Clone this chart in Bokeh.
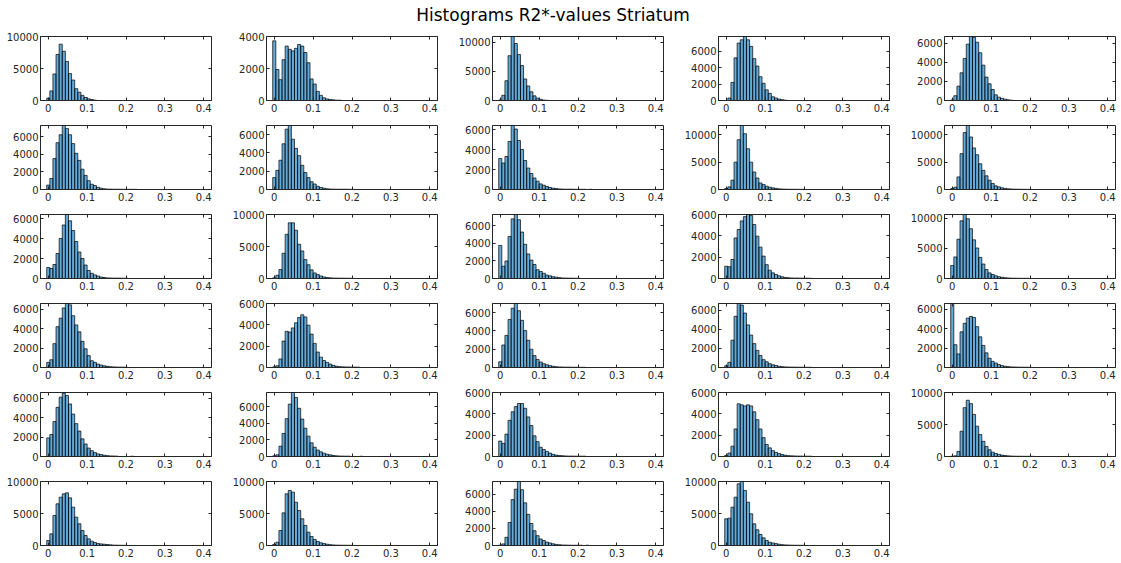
from bokeh.plotting import figure
from bokeh.models import Range1d, FixedTicker, NumeralTickFormatter, LinearAxis, ColumnDataSource
from bokeh.layouts import column, row
from bokeh.embed import file_html
from bokeh.resources import INLINE
from bokeh.core.properties import value

TITLE = "Histograms R2*-values Striatum"
BIN_WIDTH = 0.008
X_TICKS = [0, 0.1, 0.2, 0.3, 0.4]
X_RANGE = (-0.02, 0.42)

H01 = [370, 1500, 4150, 7200, 8800, 7700, 6100, 4200, 3200, 1850, 1300, 800, 470, 260, 150, 60]
H02 = [3730, 1940, 1300, 2550, 3400, 3200, 3100, 3260, 3500, 3400, 3000, 2360, 1350, 1030, 570, 320, 170, 100, 60, 40, 20, 20]
H03 = [100, 900, 3400, 7700, 11000, 9800, 7900, 6000, 3700, 2500, 1500, 800, 400, 200, 80, 30]
H04 = [0, 300, 2200, 5200, 7000, 7400, 7800, 7400, 6600, 5100, 4200, 2900, 2100, 1300, 870, 450, 300, 180, 100, 40]
H05 = [60, 500, 1500, 2900, 4400, 5900, 6700, 6600, 6100, 5000, 3700, 2450, 1750, 1150, 600, 350, 230, 140, 70, 30]
H06 = [500, 1250, 3500, 5300, 6200, 7250, 6900, 6200, 5200, 4100, 3300, 2300, 1600, 1000, 600, 450, 250, 150, 80, 50, 40, 30, 30, 30, 20, 20, 20, 20, 20]
H07 = [1300, 2100, 3200, 5000, 6600, 7000, 5500, 4500, 3700, 2650, 1850, 1300, 850, 600, 350, 220, 150, 80, 50, 40, 30, 30, 30, 30, 20, 20]
H08 = [3100, 2650, 3300, 4800, 6400, 6050, 4900, 4000, 2900, 2150, 1600, 1150, 830, 560, 430, 300, 200, 130, 90, 60, 40, 30, 30, 30, 20, 20, 20, 20, 0, 20]
H09 = [180, 480, 1700, 5000, 9100, 11700, 10200, 7450, 5000, 3200, 2100, 1200, 900, 600, 420, 300, 200, 120, 80, 60, 50, 40, 40, 30, 30, 30]
H10 = [180, 420, 2300, 6550, 10400, 11700, 9600, 7600, 6350, 4700, 3500, 2500, 1700, 1100, 670, 480, 300, 200, 130, 90, 60, 50, 40, 30, 30, 20]
H11 = [1100, 1000, 1400, 2500, 4000, 5350, 6400, 5770, 4800, 3700, 2650, 2000, 1350, 800, 520, 360, 250, 150, 100, 60, 50, 40, 40, 40, 30, 30]
H12 = [100, 500, 1400, 3950, 6900, 8700, 8700, 7550, 5350, 4300, 2950, 2150, 1350, 870, 610, 400, 250, 150, 100, 70, 60, 50, 50, 40, 40, 30]
H13 = [3770, 1400, 2000, 4800, 6800, 7300, 6700, 5300, 3900, 2800, 2100, 1600, 1000, 800, 600, 400, 300, 200, 150, 100, 60, 50, 40, 40, 30, 30]
H14 = [1150, 1100, 1780, 3800, 4600, 5400, 5800, 6000, 5900, 5060, 3970, 2940, 2100, 1300, 780, 530, 370, 250, 160, 100, 70, 50, 40, 40, 30, 30, 30, 20]
H15 = [2150, 3570, 6500, 9550, 10600, 9900, 8250, 6400, 5050, 3500, 2400, 1480, 930, 660, 450, 300, 200, 130, 90, 60, 50, 40, 30, 30, 30, 20]
H16 = [530, 800, 2460, 4210, 5090, 6140, 6600, 6460, 5340, 4390, 3680, 2700, 1930, 1230, 700, 530, 350, 250, 180, 120, 80, 60, 50, 40, 40, 30]
H17 = [60, 160, 800, 2480, 3390, 3320, 3710, 4190, 4680, 4940, 4740, 3970, 3130, 2260, 1450, 970, 650, 480, 320, 200, 120, 80, 60, 50, 50, 40, 40, 30]
H18 = [630, 2460, 3510, 5260, 6490, 7000, 6210, 5160, 4040, 2980, 2000, 1300, 880, 600, 420, 300, 200, 130, 90, 60, 50, 40, 40, 30, 30, 30, 20, 20]
H19 = [180, 540, 2860, 5360, 6700, 6540, 5700, 4460, 3390, 2500, 1790, 1250, 820, 600, 400, 280, 200, 130, 90, 60, 50, 40, 40, 30, 30, 30, 20, 20]
H20 = [7500, 2350, 1400, 3680, 4560, 5090, 5260, 5160, 4210, 3160, 2280, 1510, 950, 630, 460, 300, 200, 130, 90, 60, 50, 40, 30, 30, 30, 20]
H21 = [1920, 2270, 3600, 5070, 6120, 6540, 6290, 5420, 4370, 3390, 2620, 1820, 1290, 870, 600, 400, 270, 200, 130, 90, 60, 50, 40, 0, 0, 0, 0, 30]
H22 = [80, 200, 1240, 2770, 4550, 6300, 7700, 7100, 5800, 4500, 3400, 2450, 1650, 1120, 780, 560, 400, 280, 200, 120, 80, 60, 50, 40, 40, 0, 0, 0, 30]
H23 = [1450, 1230, 2100, 3390, 4190, 4680, 4970, 4970, 4520, 3710, 2900, 1940, 1390, 870, 650, 480, 320, 200, 130, 90, 70, 50, 40, 40, 30, 30, 30, 30]
H24 = [100, 320, 970, 2580, 4940, 4840, 4740, 4840, 4740, 4190, 3450, 2580, 1770, 1130, 810, 550, 390, 270, 180, 120, 80, 60, 50, 40, 40, 30, 30, 30]
H25 = [50, 100, 790, 3950, 7630, 8790, 8260, 6580, 4740, 3420, 2370, 1580, 1050, 680, 470, 330, 220, 150, 100, 70, 50, 40, 40, 30, 30, 30, 20]
H26 = [780, 1820, 4690, 6510, 7550, 8070, 8230, 7450, 5990, 4430, 3390, 2340, 1560, 1040, 680, 470, 300, 250, 200, 150, 100, 60, 50, 40, 30, 30]
H27 = [160, 520, 2340, 5100, 8070, 8590, 8330, 6770, 5470, 4170, 3130, 2080, 1410, 940, 630, 420, 300, 200, 130, 90, 60, 50, 40, 40, 30, 30]
H28 = [40, 190, 960, 2690, 5380, 6600, 7500, 6540, 5000, 3650, 2580, 1730, 1150, 770, 580, 400, 300, 200, 130, 90, 60, 50, 40, 30, 30, 30, 30, 0, 30]
H29 = [4170, 4270, 5990, 7550, 9640, 10000, 8590, 6770, 4950, 3390, 2450, 1720, 1200, 780, 520, 400, 300, 200, 130, 90, 70, 50, 40, 40, 30, 30]

HISTS = [H01, H02, H03, H04, H05, H06, H07, H08, H09, H10,
         H11, H12, H13, H14, H15, H16, H17, H18, H19, H20,
         H21, H22, H23, H24, H25, H26, H27, H28, H29]

Y_MAX = [10000, 4000, 11000, 7800, 6700,
         7250, 7000, 6400, 11700, 11700,
         6400, 10000, 7300, 6000, 10600,
         6600, 6000, 7000, 6700, 6600,
         6600, 7700, 6000, 6000, 10000,
         10000, 10000, 7500, 10000]

NCOLS = 5
NROWS = 6
TEXT_COLOR = "#262626"
FONT = "DejaVu Sans"


def hidden_axis(ticks):
    return LinearAxis(ticker=FixedTicker(ticks=ticks),
                      major_label_text_font_size="1px", major_label_text_color=None,
                      major_tick_in=3, major_tick_out=0, minor_tick_line_color=None,
                      axis_line_color=None, major_label_standoff=0,
                      major_tick_line_color=TEXT_COLOR)


def make_panel(counts, ymax, col, rw):
    last_col = col == NCOLS - 1
    last_row = rw == NROWS - 1
    p = figure(width=217 if last_col else 226,
               height=85 if last_row else 89,
               x_range=Range1d(*X_RANGE), y_range=Range1d(0, ymax),
               output_backend="svg", toolbar_location=None,
               min_border_left=40, min_border_right=6 if last_col else 15,
               min_border_top=5, min_border_bottom=16 if last_row else 20)
    p.grid.visible = False
    p.outline_line_color = TEXT_COLOR
    p.outline_line_width = 1

    xs = [i * BIN_WIDTH for i, c in enumerate(counts) if c > 0]
    tops = [c for c in counts if c > 0]
    src = ColumnDataSource(dict(x=xs, top=tops))
    p.vbar(x="x", top="top", bottom=0, width=BIN_WIDTH, source=src,
           fill_color="#0072BD", fill_alpha=0.6, line_color="black", line_width=0.7)

    step = 5000 if ymax > 8000 else 2000
    y_ticks = list(range(0, ymax + 1, step))

    for ax in (p.xaxis[0], p.yaxis[0]):
        ax.major_tick_in = 3
        ax.major_tick_out = 0
        ax.minor_tick_line_color = None
        ax.axis_line_color = TEXT_COLOR
        ax.major_tick_line_color = TEXT_COLOR
        ax.major_label_text_color = TEXT_COLOR
        ax.major_label_text_font = FONT
        ax.major_label_text_font_size = "10px"
    p.xaxis[0].ticker = FixedTicker(ticks=X_TICKS)
    p.xaxis[0].formatter = NumeralTickFormatter(format="0.[0]")
    p.xaxis[0].major_label_standoff = 3
    p.yaxis[0].ticker = FixedTicker(ticks=y_ticks)
    p.yaxis[0].formatter = NumeralTickFormatter(format="0")
    p.yaxis[0].major_label_standoff = 2

    p.add_layout(hidden_axis(X_TICKS), "above")
    p.add_layout(hidden_axis(y_ticks), "right")
    return p


title_fig = figure(width=1121, height=31, x_range=Range1d(0, 1121), y_range=Range1d(0, 31),
                   output_backend="svg", toolbar_location=None,
                   x_axis_type=None, y_axis_type=None, min_border=0)
title_fig.grid.visible = False
title_fig.outline_line_color = None
title_fig.text(x=[552.5], y=[17], text=[TITLE], text_font=value(FONT), text_font_size="17px",
               text_align="center", text_baseline="alphabetic", text_color="black")

rows = []
for r in range(NROWS):
    panels = []
    for c in range(NCOLS):
        i = r * NCOLS + c
        if i < len(HISTS):
            panels.append(make_panel(HISTS[i], Y_MAX[i], c, r))
    rows.append(row(*panels))

layout = column(title_fig, *rows)
open("out.html", "w").write(file_html(layout, INLINE))
